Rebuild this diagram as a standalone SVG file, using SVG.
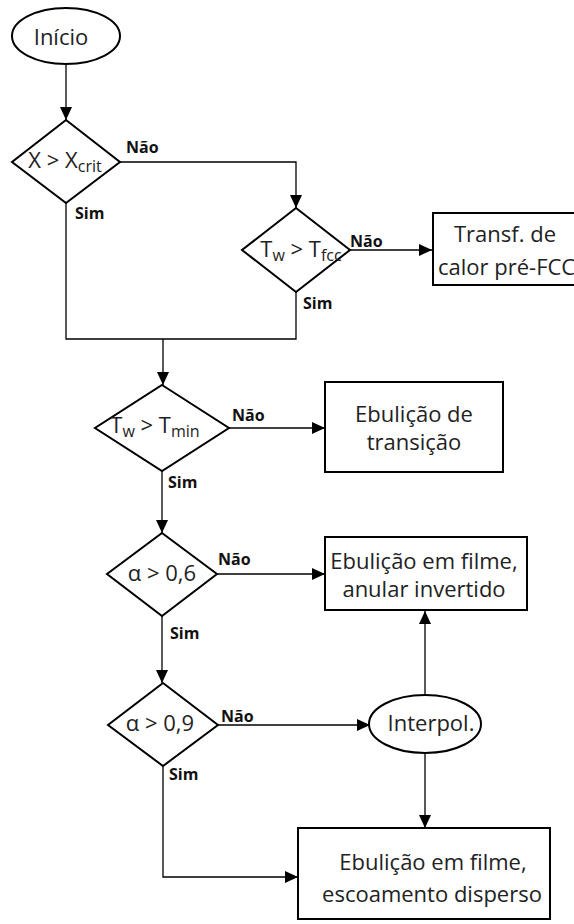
<svg xmlns="http://www.w3.org/2000/svg" width="574" height="924" viewBox="0 0 574 924">
<style>
.shape{fill:#fff;stroke:#000;stroke-width:2}
.conn{fill:none;stroke:#000;stroke-width:1.3}
.t{font-family:"Open Sans","Liberation Sans",sans-serif;font-size:22px;fill:#222}
.lbl{font-family:"Open Sans","Liberation Sans",sans-serif;font-size:16px;font-weight:bold;fill:#111}
.sub{font-size:16px}
</style>
<defs>
<marker id="arr" markerUnits="userSpaceOnUse" markerWidth="14" markerHeight="12" refX="13" refY="6" orient="auto">
<path d="M0,0 L13,6 L0,12 z" fill="#000"/>
</marker>
</defs>
<rect width="574" height="924" fill="#fff"/>
<g id="connectors">
<path class="conn" d="M66,64 V120" marker-end="url(#arr)"/>
<path class="conn" d="M120,162 H296 V208" marker-end="url(#arr)"/>
<path class="conn" d="M66,203 V339 H296 V292"/>
<path class="conn" d="M163,339 V385" marker-end="url(#arr)"/>
<path class="conn" d="M350,250 H432" marker-end="url(#arr)"/>
<path class="conn" d="M229,428 H325" marker-end="url(#arr)"/>
<path class="conn" d="M162,471 V533" marker-end="url(#arr)"/>
<path class="conn" d="M217,574 H325" marker-end="url(#arr)"/>
<path class="conn" d="M162,616 V683" marker-end="url(#arr)"/>
<path class="conn" d="M218,725 H370" marker-end="url(#arr)"/>
<path class="conn" d="M425,695 V611" marker-end="url(#arr)"/>
<path class="conn" d="M425,752 V828" marker-end="url(#arr)"/>
<path class="conn" d="M163,766 V877 H298" marker-end="url(#arr)"/>
<text class="lbl" x="126" y="153">Não</text>
<text class="lbl" x="75" y="219">Sim</text>
<text class="lbl" x="350" y="247">Não</text>
<text class="lbl" x="303" y="309">Sim</text>
<text class="lbl" x="232" y="421">Não</text>
<text class="lbl" x="168" y="488">Sim</text>
<text class="lbl" x="218" y="565">Não</text>
<text class="lbl" x="170" y="639">Sim</text>
<text class="lbl" x="221" y="722">Não</text>
<text class="lbl" x="169" y="780">Sim</text>
</g>
<g id="inicio">
<ellipse class="shape" cx="66" cy="36" rx="54" ry="28"/>
<text class="t" x="61" y="45" text-anchor="middle">Início</text>
</g>
<g id="d1">
<polygon class="shape" points="66,120 120,162 66,203 12,162"/>
<text class="t" x="65" y="168" text-anchor="middle">X &gt; X<tspan class="sub" dy="4">crit</tspan></text>
</g>
<g id="d2">
<polygon class="shape" points="296,208 350,250 296,292 242,250"/>
<text class="t" x="301" y="257" text-anchor="middle">T<tspan class="sub" dy="4">w</tspan><tspan dy="-4"> &gt; T</tspan><tspan class="sub" dy="4">fcc</tspan></text>
</g>
<g id="pre-fcc">
<rect class="shape" x="433" y="213" width="150" height="72"/>
<text class="t" x="505" y="242" text-anchor="middle">Transf. de</text>
<text class="t" x="438" y="275">calor pré-FCC</text>
</g>
<g id="d3">
<polygon class="shape" points="162,385 229,428 162,471 95,428"/>
<text class="t" x="155" y="433" text-anchor="middle">T<tspan class="sub" dy="4">w</tspan><tspan dy="-4"> &gt; T</tspan><tspan class="sub" dy="4">min</tspan></text>
</g>
<g id="transicao">
<rect class="shape" x="325" y="382" width="178" height="90"/>
<text class="t" x="414" y="422" text-anchor="middle">Ebulição de</text>
<text class="t" x="414" y="450" text-anchor="middle">transição</text>
</g>
<g id="d4">
<polygon class="shape" points="162,533 217,574 162,616 107,574"/>
<text class="t" x="162" y="581" text-anchor="middle">α &gt; 0,6</text>
</g>
<g id="anular">
<rect class="shape" x="325" y="537" width="202" height="73"/>
<text class="t" x="424" y="569" text-anchor="middle">Ebulição em filme,</text>
<text class="t" x="424" y="597" text-anchor="middle">anular invertido</text>
</g>
<g id="d5">
<polygon class="shape" points="163,683 218,725 163,766 108,725"/>
<text class="t" x="160" y="731" text-anchor="middle">α &gt; 0,9</text>
</g>
<g id="interpol">
<ellipse class="shape" cx="425" cy="724" rx="56" ry="29"/>
<text class="t" x="431" y="731" text-anchor="middle">Interpol.</text>
</g>
<g id="disperso">
<rect class="shape" x="298" y="828" width="252" height="91"/>
<text class="t" x="433" y="870" text-anchor="middle">Ebulição em filme,</text>
<text class="t" x="432" y="902" text-anchor="middle">escoamento disperso</text>
</g>
</svg>
